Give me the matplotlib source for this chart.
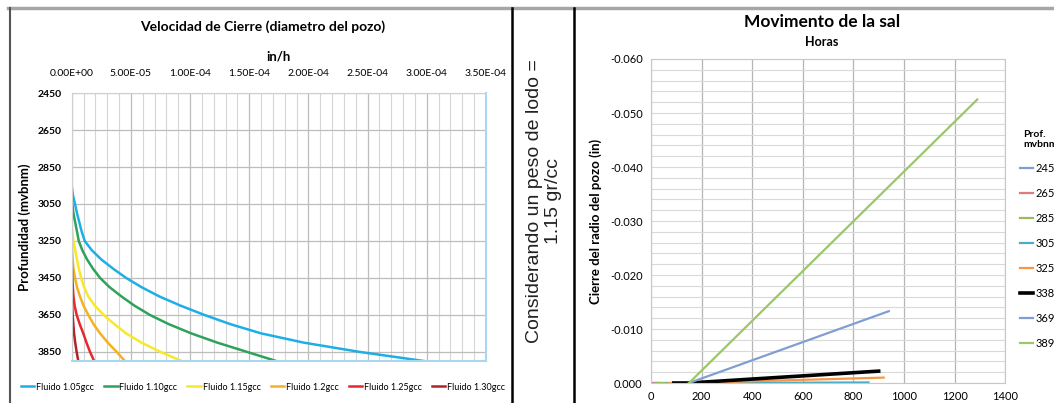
import matplotlib
matplotlib.use("Agg")
import matplotlib.pyplot as plt
from matplotlib.lines import Line2D
from matplotlib.ticker import FuncFormatter, MultipleLocator

plt.rcParams['font.family'] = ['Lato', 'DejaVu Sans']

# ---- left chart: closure velocity (in/h, x1e-5) vs depth ----
depth = [2450, 2650, 2850, 2950, 3000, 3050, 3100, 3150, 3200, 3250, 3300, 3350,
         3400, 3450, 3500, 3550, 3600, 3650, 3700, 3750, 3800, 3850, 3900]
fluid_labels = ['Fluido 1.05gcc', 'Fluido 1.10gcc', 'Fluido 1.15gcc',
                'Fluido 1.2gcc', 'Fluido 1.25gcc', 'Fluido 1.30gcc']
v105 = [0, 0, 0, 0, 0.1, 0.28, 0.45, 0.65, 0.85, 1.1, 1.7, 2.5,
        3.5, 4.6, 5.9, 7.4, 9.2, 11.2, 13.4, 16.0, 19.6, 24.3, 29.8]
v110 = [0, 0, 0, 0, 0, 0.05, 0.15, 0.3, 0.45, 0.6, 0.9, 1.3,
        1.8, 2.4, 3.2, 4.2, 5.3, 6.6, 8.2, 10.1, 12.3, 14.8, 17.3]
v115 = [0, 0, 0, 0, 0, 0, 0, 0, 0.05, 0.15, 0.3, 0.45,
        0.6, 0.8, 1.05, 1.4, 1.95, 2.7, 3.6, 4.6, 5.9, 7.5, 9.3]
v120 = [0, 0, 0, 0, 0, 0, 0, 0, 0, 0, 0.03, 0.08,
        0.15, 0.28, 0.45, 0.7, 1.0, 1.4, 1.85, 2.4, 3.05, 3.8, 4.5]
v125 = [0, 0, 0, 0, 0, 0, 0, 0, 0, 0, 0, 0,
        0.03, 0.06, 0.1, 0.15, 0.25, 0.42, 0.68, 0.98, 1.25, 1.55, 1.9]
v130 = [0, 0, 0, 0, 0, 0, 0, 0, 0, 0, 0, 0,
        0, 0, 0.01, 0.02, 0.04, 0.08, 0.14, 0.2, 0.3, 0.42, 0.56]
fluid_values = [v105, v110, v115, v120, v125, v130]
fluid_colors = ['#1eaee6', '#2ea25a', '#f8e82a', '#f5b21e', '#e8262b', '#b0232a']
depth_ticks = [2450, 2650, 2850, 3050, 3250, 3450, 3650, 3850]

# ---- right chart: radius closure (in) vs hours ----
prof_labels = ['2450', '2650', '2850', '3050', '3250', '3380', '3690', '3890']
horas = [[0, 30], [10, 45], [20, 55], [60, 150, 860], [70, 150, 920],
         [90, 150, 900], [150, 940], [150, 1290]]
cierre = [[0, 0], [0, 0], [0, 0], [0, 0, -0.0001], [0, 0, -0.001],
          [0, 0, -0.0022], [0, -0.0133], [0, -0.0525]]
prof_colors = ['#7f9fd3', '#e07b7b', '#9bbb59', '#4bacc6', '#f79646',
               'black', '#7f9fd3', '#9bc76a']

fig = plt.figure(figsize=(10.54, 4.03), dpi=100)

ax1 = fig.add_axes([0.068, 0.104, 0.393, 0.665])
handles = []
for vals, col, lab in zip(fluid_values, fluid_colors, fluid_labels):
    h, = ax1.plot([v * 1e-5 for v in vals], depth, color=col, lw=1.8, label=lab)
    handles.append(h)
ax1.set_xlim(0, 3.5e-4)
ax1.set_ylim(3900, 2450)
ax1.xaxis.tick_top()
ax1.xaxis.set_label_position('top')
ax1.xaxis.set_major_locator(MultipleLocator(5e-5))
ax1.xaxis.set_minor_locator(MultipleLocator(1e-5))
ax1.xaxis.set_major_formatter(FuncFormatter(lambda v, p: f"{v:.2E}"))
ax1.set_yticks(depth_ticks)
ax1.tick_params(axis='x', length=0, which='both', labelsize=7.5, pad=11)
ax1.tick_params(axis='y', length=0, which='both', labelsize=7.5, pad=7)
for lab in ax1.get_yticklabels():
    lab.set_fontweight('bold')
ax1.grid(which='major', color='#bdbdbd', lw=0.9)
ax1.grid(which='minor', axis='x', color='#d6d6d6', lw=0.8)
ax1.set_axisbelow(True)
ax1.set_xlabel('in/h', fontsize=9.5, fontweight='bold', labelpad=6)
ax1.set_ylabel('Profundidad (mvbnm)', fontsize=9.5, fontweight='bold', labelpad=5)
for s in ['top', 'left']:
    ax1.spines[s].set_color('#cfcfcf')
for s in ['right', 'bottom']:
    ax1.spines[s].set_color('#a8d8ee')
    ax1.spines[s].set_linewidth(1.5)
fig.text(263 / 1054, 1 - 27 / 403, 'Velocidad de Cierre (diametro del pozo)',
         ha='center', va='center', fontsize=10, fontweight='bold')
fig.legend(handles=handles, loc='center', bbox_to_anchor=(263 / 1054, 1 - 387 / 403),
           ncol=6, frameon=False, fontsize=6.5, handlelength=1.5,
           columnspacing=1.1, handletextpad=0.2)

fig.text(544 / 1054, 0.5, 'Considerando un peso de lodo =\n1.15 gr/cc',
         rotation=90, ha='center', va='center', multialignment='center',
         fontsize=14, family='Liberation Sans', color='#222222')

ax2 = fig.add_axes([0.6177, 0.0496, 0.3359, 0.804])
for hx, cy, col, lab in zip(horas, cierre, prof_colors, prof_labels):
    ax2.plot(hx, cy, color=col, lw=2.6 if col == 'black' else 1.6, label=lab)
ax2.set_xlim(0, 1400)
ax2.set_ylim(0, -0.060)
ax2.xaxis.set_major_locator(MultipleLocator(200))
ax2.yaxis.set_major_locator(MultipleLocator(0.01))
ax2.yaxis.set_minor_locator(MultipleLocator(0.002))
ax2.yaxis.set_major_formatter(FuncFormatter(lambda v, p: f"{v:.3f}"))
ax2.tick_params(length=0, which='both', labelsize=8, pad=6)
ax2.grid(which='major', axis='x', color='#b5b5b5', lw=0.9)
ax2.grid(which='both', axis='y', color='#d9d9d9', lw=0.8)
ax2.set_axisbelow(True)
for s in ax2.spines.values():
    s.set_color('#c8c8c8')
ax2.set_ylabel('Cierre del radio del pozo (in)', fontsize=9.5, fontweight='bold', labelpad=6)
fig.text(822 / 1054, 1 - 22 / 403, 'Movimento de la sal', ha='center', va='center',
         fontsize=12.5, fontweight='bold')
fig.text(822 / 1054, 1 - 42 / 403, 'Horas', ha='center', va='center',
         fontsize=9, fontweight='bold')
leg = ax2.legend(loc='upper left', bbox_to_anchor=(1010 / 1054, 1 - 120 / 403),
                 bbox_transform=fig.transFigure, frameon=False, fontsize=8,
                 handlelength=1.2, handletextpad=0.2, labelspacing=1.25,
                 title='Prof.\nmvbnm', title_fontproperties={'weight': 'bold', 'size': 7.5})

# panel borders
fig.add_artist(Line2D([8 / 1054, 1], [1 - 8 / 403] * 2, color='#a6a6a6', lw=2.5))
fig.add_artist(Line2D([10 / 1054] * 2, [0, 1 - 8 / 403], color='#555555', lw=1.5))
fig.add_artist(Line2D([512 / 1054] * 2, [0, 1 - 8 / 403], color='black', lw=1.8))
fig.add_artist(Line2D([574 / 1054] * 2, [0, 1 - 8 / 403], color='black', lw=1.8))

fig.savefig('out.png', dpi=100)
